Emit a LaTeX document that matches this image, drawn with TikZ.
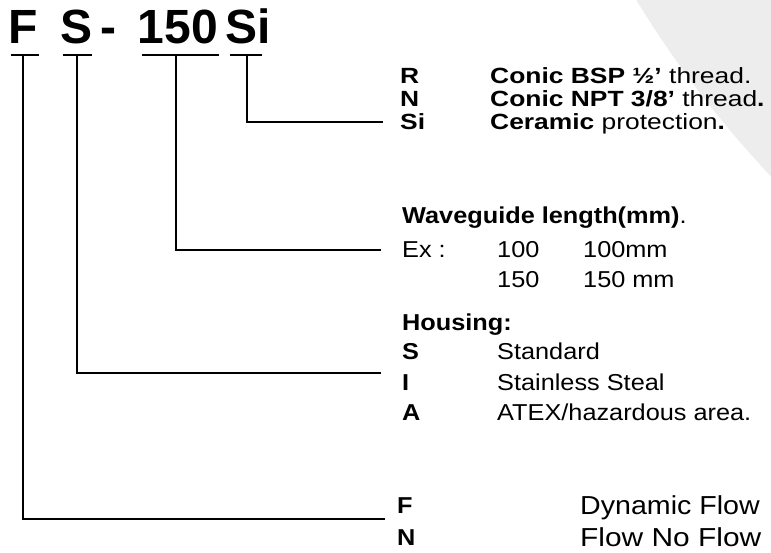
\documentclass[tikz,border=0pt]{standalone}
\usepackage{fontspec}
\setmainfont{Liberation Sans}
\newcommand{\widetxt}[1]{\scalebox{1.1}[1]{#1}}
\newcommand{\widertxt}[1]{\scalebox{1.15}[1]{#1}}
\newcommand{\widesttxt}[1]{\scalebox{1.2}[1]{#1}}
\begin{document}
\begin{tikzpicture}[x=1pt,y=-1pt,
  title/.style={anchor=base west,inner sep=0pt,font=\fontsize{48}{52}\selectfont\bfseries},
  txtA/.style={anchor=base west,inner sep=0pt,font=\fontsize{22}{26}\selectfont},
  btxtA/.style={anchor=base west,inner sep=0pt,font=\fontsize{22}{26}\selectfont\bfseries},
  txt/.style={anchor=base west,inner sep=0pt,font=\fontsize{23}{27}\selectfont},
  btxt/.style={anchor=base west,inner sep=0pt,font=\fontsize{23}{27}\selectfont\bfseries},
  bigtxt/.style={anchor=base west,inner sep=0pt,font=\fontsize{26}{30}\selectfont},
  link/.style={draw=black,line width=1.6pt}]
\useasboundingbox (0,0) rectangle (771,552);
\begin{scope}
\clip (0,0) rectangle (771,552);
\fill[black!7] (1546,-554) circle (1065);
\end{scope}
% title
\node[title] (tF) at (8.5,43) {F};
\node[title] (tS) at (60,43) {S};
\node[title] (tD) at (100,43) {-};
\node[title] (t150) at (137.5,43) {150};
\node[title] (tSi) at (225,43) {Si};
% underlines
\draw[link] (11,55) -- (39,55);
\draw[link] (63,55) -- (92,55);
\draw[link] (142,55) -- (219,55);
\draw[link] (230,55) -- (262,55);
\coordinate (uF) at (23,55);
\coordinate (uS) at (77,55);
\coordinate (u150) at (176,55);
\coordinate (uSi) at (247,55);
\coordinate (eSi) at (383,122);
\coordinate (e150) at (381,250);
\coordinate (eS) at (381,373);
\coordinate (eF) at (385,519);
\draw[link] (uSi) |- (eSi);
\draw[link] (u150) |- (e150);
\draw[link] (uS) |- (eS);
\draw[link] (uF) |- (eF);
% Si block
\node[btxtA] (lR) at (400,83) {\widesttxt{R}};
\node[btxtA] (lN) at (400,106) {\widesttxt{N}};
\node[btxtA] (lSi) at (400,129) {\widesttxt{Si}};
\node[txtA] (dR) at (490,83) {\widesttxt{\textbf{Conic BSP ½’} thread.}};
\node[txtA] (dN) at (490,106) {\widesttxt{\textbf{Conic NPT 3/8’} thread\textbf{.}}};
\node[txtA] (dSi) at (490,129) {\widesttxt{\textbf{Ceramic} protection\textbf{.}}};
% waveguide block
\node[txt] (wg) at (402,223.2) {\widetxt{\textbf{Waveguide length(mm)}.}};
\node[txt] (ex) at (402,257.2) {\widetxt{Ex :}};
\node[txt] (ex1) at (497,257.2) {\widetxt{100}};
\node[txt] (ex2) at (583,257.2) {\widetxt{100mm}};
\node[txt] (ex3) at (497,287.2) {\widetxt{150}};
\node[txt] (ex4) at (583,287.2) {\widetxt{150 mm}};
% housing block
\node[btxt] (hs) at (402,330.2) {\widetxt{Housing:}};
\node[btxt] (hS) at (402,359.2) {\widetxt{S}};
\node[txt] (hSd) at (497,359.2) {\widetxt{Standard}};
\node[btxt] (hI) at (402,390.2) {\widetxt{I}};
\node[txt] (hId) at (497,390.2) {\widetxt{Stainless Steal}};
\node[btxt] (hA) at (402,420.2) {\widetxt{A}};
\node[txt] (hAd) at (497,420.2) {\widetxt{ATEX/hazardous area.}};
% flow block
\node[btxt] (fF) at (397,513.2) {\widetxt{F}};
\node[bigtxt] (fFd) at (580,514.3) {\widetxt{Dynamic Flow}};
\node[btxt] (fN) at (397,545.2) {\widetxt{N}};
\node[bigtxt] (fNd) at (580,546.3) {\widertxt{Flow No Flow}};
\end{tikzpicture}
\end{document}
